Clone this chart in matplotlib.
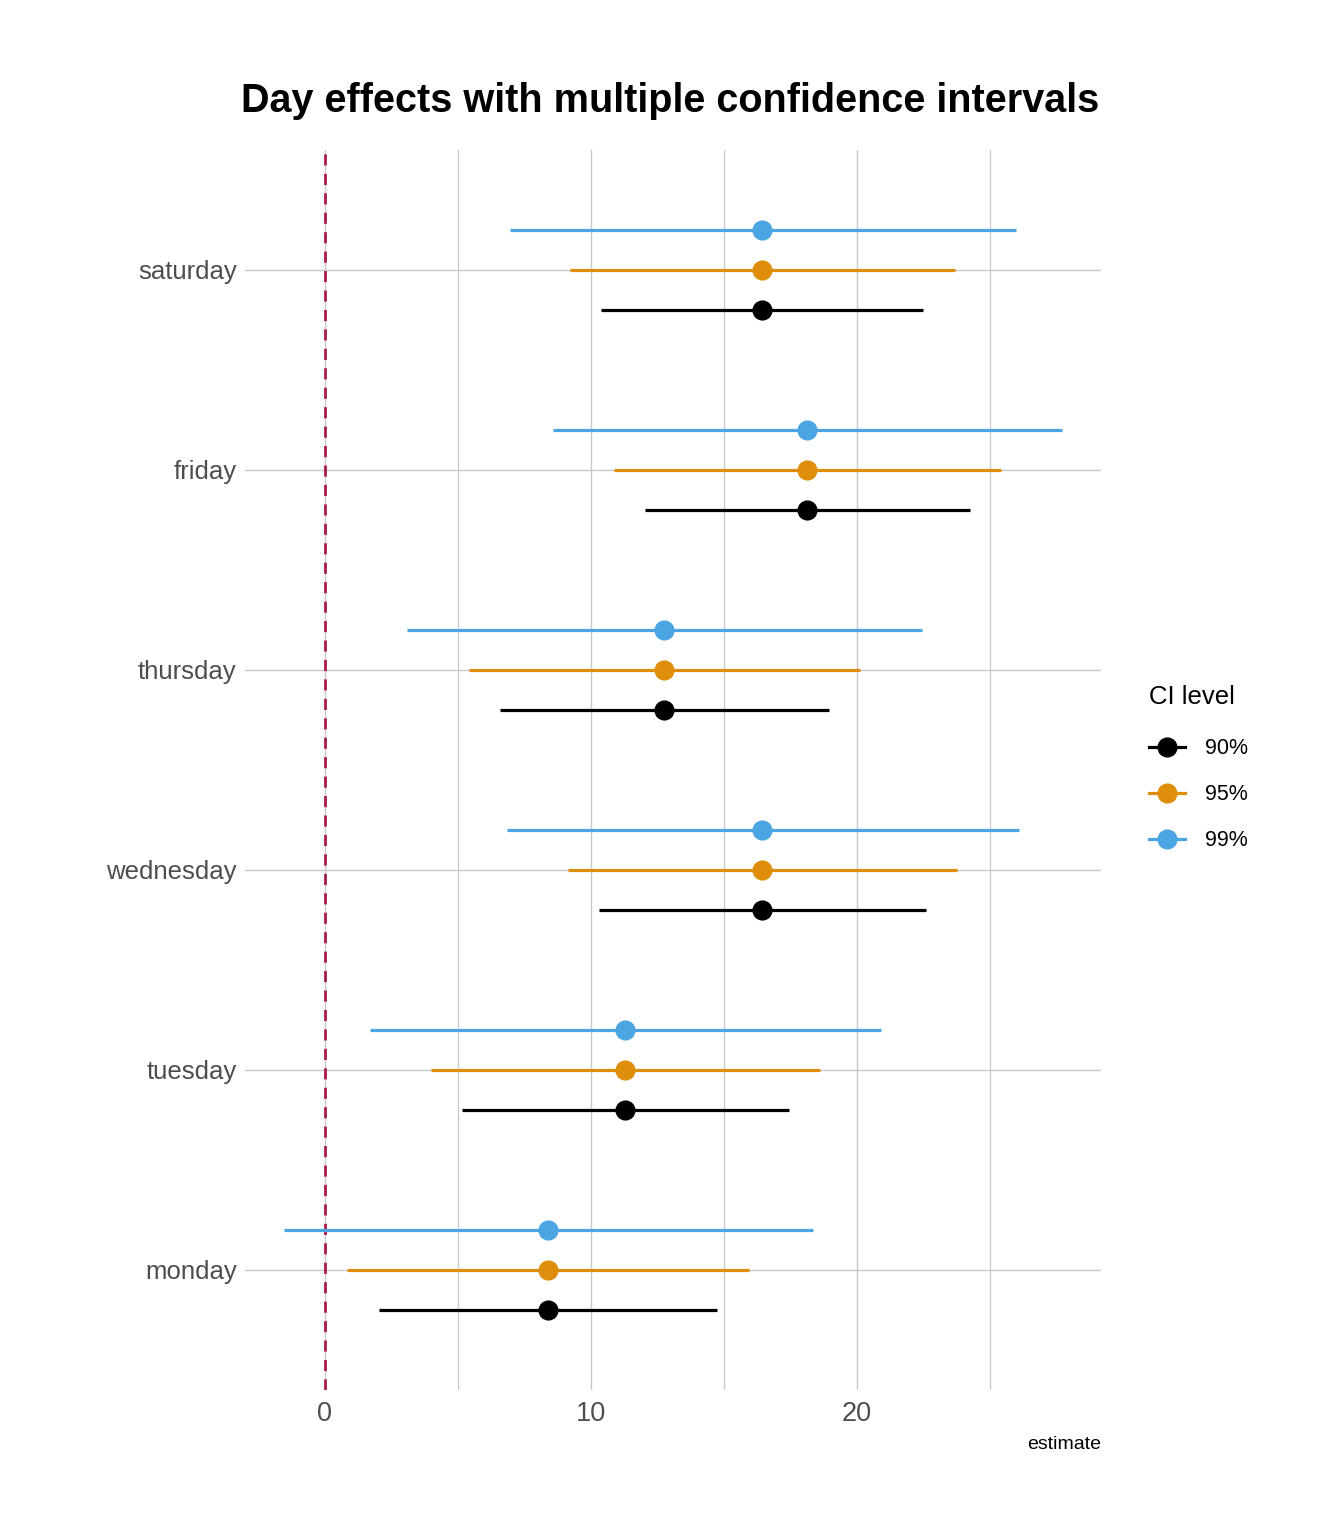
import matplotlib
matplotlib.use("Agg")
import matplotlib.pyplot as plt
from matplotlib.lines import Line2D
import numpy as np

plt.rcParams['font.family'] = ['Liberation Sans', 'DejaVu Sans']

days = ["monday", "tuesday", "wednesday", "thursday", "friday", "saturday"]
estimate = [8.38, 11.28, 16.43, 12.74, 18.12, 16.43]
levels = ["90%", "95%", "99%"]
lo90 = [2.03, 5.15, 10.30, 6.58, 12.03, 10.38]
hi90 = [14.74, 17.44, 22.59, 18.95, 24.25, 22.48]
lo95 = [0.83, 3.98, 9.14, 5.41, 10.86, 9.21]
hi95 = [15.94, 18.61, 23.76, 20.11, 25.41, 23.68]
lo99 = [-1.54, 1.69, 6.84, 3.08, 8.57, 6.95]
hi99 = [18.35, 20.90, 26.09, 22.44, 27.71, 25.98]
colors = ["#000000", "#DF8E0B", "#4BA5E2"]

los = [lo90, lo95, lo99]
his = [hi90, hi95, hi99]
offsets = [-0.2, 0.0, 0.2]

fig = plt.figure(figsize=(13.44, 15.36), dpi=100)
ax = fig.add_axes([245/1344, 1-1390/1536, (1101-245)/1344, (1390-150)/1536])

y = np.arange(len(days))
ax.set_xlim(-3.0, 29.17)
ax.set_ylim(-0.6, len(days) - 1 + 0.6)

ax.set_xticks([0, 10, 20])
ax.set_xticks([5, 15, 25], minor=True)
ax.set_yticks(y)
ax.set_yticklabels(days)
ax.grid(True, which='major', color='#C8C8C8', lw=1.0)
ax.grid(True, which='minor', axis='x', color='#C8C8C8', lw=0.9)
ax.set_axisbelow(True)
for s in ax.spines.values():
    s.set_visible(False)
ax.tick_params(axis='both', which='both', length=0, labelcolor='#4D4D4D')
ax.tick_params(axis='x', labelsize=19.5, pad=8)
ax.tick_params(axis='y', labelsize=18.5, pad=6)

ax.axvline(0, color='#AA1A4C', lw=2.0, ls=(0, (4, 3)), zorder=2)

for i, lev in enumerate(levels):
    yy = y + offsets[i]
    ax.hlines(yy, los[i], his[i], color=colors[i], lw=2.3, zorder=3)
    ax.plot(estimate, yy, 'o', color=colors[i], ms=13.5, zorder=4)

handles = [Line2D([0], [0], color=c, lw=2.3, marker='o', ms=13.5) for c in colors]
leg = ax.legend(handles, levels, title='CI level', loc='upper left',
                bbox_to_anchor=(1149/1344, 1-685/1536), bbox_transform=fig.transFigure,
                frameon=False, fontsize=15.5, title_fontsize=18.5, borderpad=0,
                borderaxespad=0,
                handlelength=1.67, handletextpad=0.95, labelspacing=1.16, alignment='left')
leg._legend_box.sep = 21

ax.text(1.0, -0.037, 'estimate', transform=ax.transAxes, ha='right', va='top', fontsize=14, color='black')

fig.text(670/1344, 1-101/1536, 'Day effects with multiple confidence intervals',
         ha='center', va='center', fontsize=28.5, fontweight='bold')

fig.savefig('out.png', dpi=100, facecolor='white')
